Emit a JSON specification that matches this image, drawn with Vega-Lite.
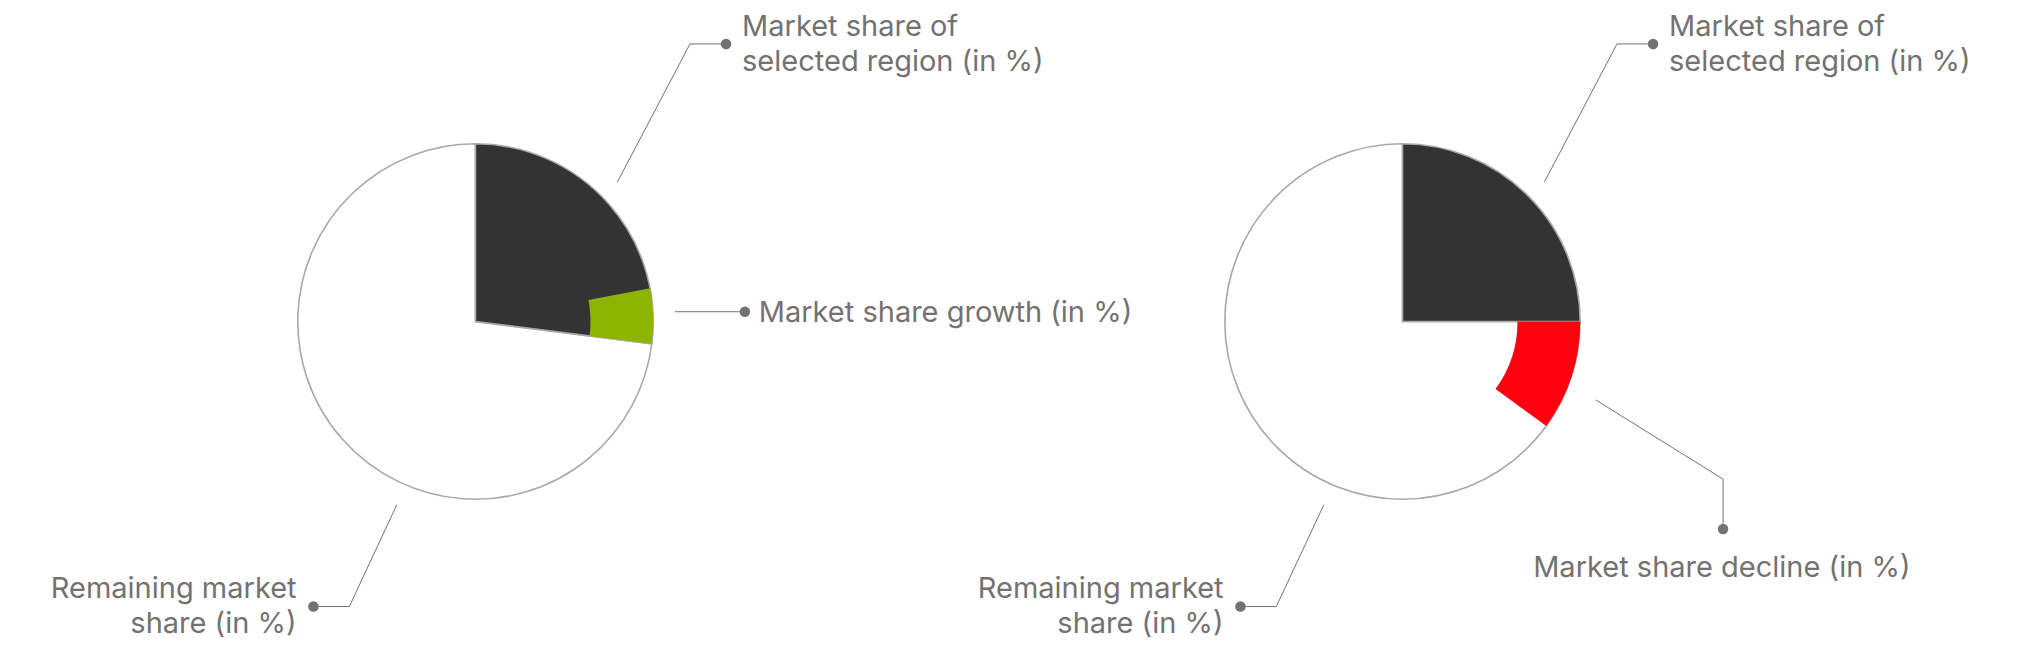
{
  "$schema": "https://vega.github.io/schema/vega-lite/v6.json",
  "description": "Market share of selected region with growth (left) and decline (right)",
  "background": "white",
  "padding": {"left": 12, "top": 0, "right": 0, "bottom": 0},
  "bounds": "flush",
  "spacing": 0,
  "config": {
    "view": {"stroke": null},
    "font": "Inter",
    "text": {"font": "Inter", "fontSize": 29, "fontWeight": 400, "color": "#767171", "lineHeight": 35, "lineBreak": "\n", "baseline": "alphabetic"}
  },
  "datasets": {
    "slices": [
      {"pie": "growth", "part": "remaining", "start": 27, "end": 100},
      {"pie": "growth", "part": "selected", "start": 0, "end": 27},
      {"pie": "growth", "part": "growth", "start": 22, "end": 27},
      {"pie": "decline", "part": "remaining", "start": 25, "end": 100},
      {"pie": "decline", "part": "selected", "start": 0, "end": 25},
      {"pie": "decline", "part": "decline", "start": 25, "end": 35}
    ],
    "leaders": [
      {"pie": "growth", "leader": "selected", "seq": 0, "x": 0.798, "y": 0.784, "anchor": false},
      {"pie": "growth", "leader": "selected", "seq": 1, "x": 1.207, "y": 1.562, "anchor": false},
      {"pie": "growth", "leader": "selected", "seq": 2, "x": 1.41, "y": 1.562, "anchor": true},
      {"pie": "growth", "leader": "change", "seq": 0, "x": 1.122, "y": 0.055, "anchor": false},
      {"pie": "growth", "leader": "change", "seq": 1, "x": 1.516, "y": 0.055, "anchor": true},
      {"pie": "growth", "leader": "remaining", "seq": 0, "x": -0.443, "y": -1.032, "anchor": false},
      {"pie": "growth", "leader": "remaining", "seq": 1, "x": -0.71, "y": -1.604, "anchor": false},
      {"pie": "growth", "leader": "remaining", "seq": 2, "x": -0.912, "y": -1.604, "anchor": true},
      {"pie": "decline", "leader": "selected", "seq": 0, "x": 0.798, "y": 0.784, "anchor": false},
      {"pie": "decline", "leader": "selected", "seq": 1, "x": 1.207, "y": 1.562, "anchor": false},
      {"pie": "decline", "leader": "selected", "seq": 2, "x": 1.41, "y": 1.562, "anchor": true},
      {"pie": "decline", "leader": "change", "seq": 0, "x": 1.087, "y": -0.441, "anchor": false},
      {"pie": "decline", "leader": "change", "seq": 1, "x": 1.804, "y": -0.887, "anchor": false},
      {"pie": "decline", "leader": "change", "seq": 2, "x": 1.804, "y": -1.168, "anchor": true},
      {"pie": "decline", "leader": "remaining", "seq": 0, "x": -0.443, "y": -1.032, "anchor": false},
      {"pie": "decline", "leader": "remaining", "seq": 1, "x": -0.71, "y": -1.604, "anchor": false},
      {"pie": "decline", "leader": "remaining", "seq": 2, "x": -0.912, "y": -1.604, "anchor": true}
    ],
    "labels": [
      {"pie": "growth", "side": "right", "x": 1.5, "y": 1.604, "label": "Market share of\nselected region (in %)"},
      {"pie": "growth", "side": "right", "x": 1.594, "y": 0.0, "label": "Market share growth (in %)"},
      {"pie": "growth", "side": "left", "x": -1.007, "y": -1.557, "label": "Remaining market\nshare (in %)"},
      {"pie": "decline", "side": "right", "x": 1.5, "y": 1.604, "label": "Market share of\nselected region (in %)"},
      {"pie": "decline", "side": "below", "x": 1.797, "y": -1.435, "label": "Market share decline (in %)"},
      {"pie": "decline", "side": "left", "x": -1.007, "y": -1.557, "label": "Remaining market\nshare (in %)"}
    ]
  },
  "hconcat": [
    {
      "width": 927,
      "height": 643,
      "layer": [
        {
          "data": {"name": "slices"},
          "transform": [
            {"filter": {"field": "pie", "equal": "growth"}},
            {"filter": {"field": "part", "oneOf": ["remaining", "selected"]}}
          ],
          "mark": {"type": "arc", "outerRadius": 177.7, "stroke": "#a9a9a9", "strokeWidth": 1.6},
          "encoding": {
            "theta": {"field": "start", "type": "quantitative", "stack": null, "scale": {"domain": [0, 100], "range": [0, 6.283185307]}},
            "theta2": {"field": "end"},
            "color": {"field": "part", "type": "nominal", "legend": null, "scale": {"domain": ["remaining", "selected", "growth", "decline"], "range": ["#ffffff", "#333333", "#8cb400", "#ff0010"]}}
          }
        },
        {
          "data": {"name": "slices"},
          "transform": [
            {"filter": {"field": "pie", "equal": "growth"}},
            {"filter": {"field": "part", "oneOf": ["growth", "decline"]}}
          ],
          "mark": {"type": "arc", "innerRadius": 115, "outerRadius": 177.7},
          "encoding": {
            "theta": {"field": "start", "type": "quantitative", "stack": null, "scale": {"domain": [0, 100], "range": [0, 6.283185307]}},
            "theta2": {"field": "end"},
            "color": {"field": "part", "type": "nominal", "legend": null, "scale": {"domain": ["remaining", "selected", "growth", "decline"], "range": ["#ffffff", "#333333", "#8cb400", "#ff0010"]}}
          }
        },
        {
          "data": {"name": "leaders"},
          "transform": [{"filter": {"field": "pie", "equal": "growth"}}],
          "mark": {"type": "line", "color": "#767171", "strokeWidth": 1},
          "encoding": {
            "x": {"field": "x", "type": "quantitative", "axis": null, "scale": {"domain": [-2.6083, 2.6083], "nice": false, "zero": false}},
            "y": {"field": "y", "type": "quantitative", "axis": null, "scale": {"domain": [-1.8092, 1.8092], "nice": false, "zero": false}},
            "detail": {"field": "leader", "type": "nominal"},
            "order": {"field": "seq", "type": "quantitative"}
          }
        },
        {
          "data": {"name": "leaders"},
          "transform": [{"filter": {"field": "pie", "equal": "growth"}}, {"filter": "datum.anchor"}],
          "mark": {"type": "point", "filled": true, "size": 110, "color": "#767171", "opacity": 1},
          "encoding": {
            "x": {"field": "x", "type": "quantitative", "axis": null, "scale": {"domain": [-2.6083, 2.6083], "nice": false, "zero": false}},
            "y": {"field": "y", "type": "quantitative", "axis": null, "scale": {"domain": [-1.8092, 1.8092], "nice": false, "zero": false}}
          }
        },
        {
          "data": {"name": "labels"},
          "transform": [{"filter": {"field": "pie", "equal": "growth"}}, {"filter": {"field": "side", "equal": "right"}}],
          "mark": {"type": "text", "align": "left"},
          "encoding": {
            "x": {"field": "x", "type": "quantitative", "axis": null, "scale": {"domain": [-2.6083, 2.6083], "nice": false, "zero": false}},
            "y": {"field": "y", "type": "quantitative", "axis": null, "scale": {"domain": [-1.8092, 1.8092], "nice": false, "zero": false}},
            "text": {"field": "label", "type": "nominal"}
          }
        },
        {
          "data": {"name": "labels"},
          "transform": [{"filter": {"field": "pie", "equal": "growth"}}, {"filter": {"field": "side", "equal": "left"}}],
          "mark": {"type": "text", "align": "right"},
          "encoding": {
            "x": {"field": "x", "type": "quantitative", "axis": null, "scale": {"domain": [-2.6083, 2.6083], "nice": false, "zero": false}},
            "y": {"field": "y", "type": "quantitative", "axis": null, "scale": {"domain": [-1.8092, 1.8092], "nice": false, "zero": false}},
            "text": {"field": "label", "type": "nominal"}
          }
        }
      ]
    },
    {
      "width": 927,
      "height": 643,
      "layer": [
        {
          "data": {"name": "slices"},
          "transform": [
            {"filter": {"field": "pie", "equal": "decline"}},
            {"filter": {"field": "part", "oneOf": ["remaining", "selected"]}}
          ],
          "mark": {"type": "arc", "outerRadius": 177.7, "stroke": "#a9a9a9", "strokeWidth": 1.6},
          "encoding": {
            "theta": {"field": "start", "type": "quantitative", "stack": null, "scale": {"domain": [0, 100], "range": [0, 6.283185307]}},
            "theta2": {"field": "end"},
            "color": {"field": "part", "type": "nominal", "legend": null, "scale": {"domain": ["remaining", "selected", "growth", "decline"], "range": ["#ffffff", "#333333", "#8cb400", "#ff0010"]}}
          }
        },
        {
          "data": {"name": "slices"},
          "transform": [
            {"filter": {"field": "pie", "equal": "decline"}},
            {"filter": {"field": "part", "oneOf": ["growth", "decline"]}}
          ],
          "mark": {"type": "arc", "innerRadius": 115, "outerRadius": 177.7},
          "encoding": {
            "theta": {"field": "start", "type": "quantitative", "stack": null, "scale": {"domain": [0, 100], "range": [0, 6.283185307]}},
            "theta2": {"field": "end"},
            "color": {"field": "part", "type": "nominal", "legend": null, "scale": {"domain": ["remaining", "selected", "growth", "decline"], "range": ["#ffffff", "#333333", "#8cb400", "#ff0010"]}}
          }
        },
        {
          "data": {"name": "leaders"},
          "transform": [{"filter": {"field": "pie", "equal": "decline"}}],
          "mark": {"type": "line", "color": "#767171", "strokeWidth": 1},
          "encoding": {
            "x": {"field": "x", "type": "quantitative", "axis": null, "scale": {"domain": [-2.6083, 2.6083], "nice": false, "zero": false}},
            "y": {"field": "y", "type": "quantitative", "axis": null, "scale": {"domain": [-1.8092, 1.8092], "nice": false, "zero": false}},
            "detail": {"field": "leader", "type": "nominal"},
            "order": {"field": "seq", "type": "quantitative"}
          }
        },
        {
          "data": {"name": "leaders"},
          "transform": [{"filter": {"field": "pie", "equal": "decline"}}, {"filter": "datum.anchor"}],
          "mark": {"type": "point", "filled": true, "size": 110, "color": "#767171", "opacity": 1},
          "encoding": {
            "x": {"field": "x", "type": "quantitative", "axis": null, "scale": {"domain": [-2.6083, 2.6083], "nice": false, "zero": false}},
            "y": {"field": "y", "type": "quantitative", "axis": null, "scale": {"domain": [-1.8092, 1.8092], "nice": false, "zero": false}}
          }
        },
        {
          "data": {"name": "labels"},
          "transform": [{"filter": {"field": "pie", "equal": "decline"}}, {"filter": {"field": "side", "equal": "right"}}],
          "mark": {"type": "text", "align": "left"},
          "encoding": {
            "x": {"field": "x", "type": "quantitative", "axis": null, "scale": {"domain": [-2.6083, 2.6083], "nice": false, "zero": false}},
            "y": {"field": "y", "type": "quantitative", "axis": null, "scale": {"domain": [-1.8092, 1.8092], "nice": false, "zero": false}},
            "text": {"field": "label", "type": "nominal"}
          }
        },
        {
          "data": {"name": "labels"},
          "transform": [{"filter": {"field": "pie", "equal": "decline"}}, {"filter": {"field": "side", "equal": "left"}}],
          "mark": {"type": "text", "align": "right"},
          "encoding": {
            "x": {"field": "x", "type": "quantitative", "axis": null, "scale": {"domain": [-2.6083, 2.6083], "nice": false, "zero": false}},
            "y": {"field": "y", "type": "quantitative", "axis": null, "scale": {"domain": [-1.8092, 1.8092], "nice": false, "zero": false}},
            "text": {"field": "label", "type": "nominal"}
          }
        },
        {
          "data": {"name": "labels"},
          "transform": [{"filter": {"field": "pie", "equal": "decline"}}, {"filter": {"field": "side", "equal": "below"}}],
          "mark": {"type": "text", "align": "center"},
          "encoding": {
            "x": {"field": "x", "type": "quantitative", "axis": null, "scale": {"domain": [-2.6083, 2.6083], "nice": false, "zero": false}},
            "y": {"field": "y", "type": "quantitative", "axis": null, "scale": {"domain": [-1.8092, 1.8092], "nice": false, "zero": false}},
            "text": {"field": "label", "type": "nominal"}
          }
        }
      ]
    }
  ]
}
